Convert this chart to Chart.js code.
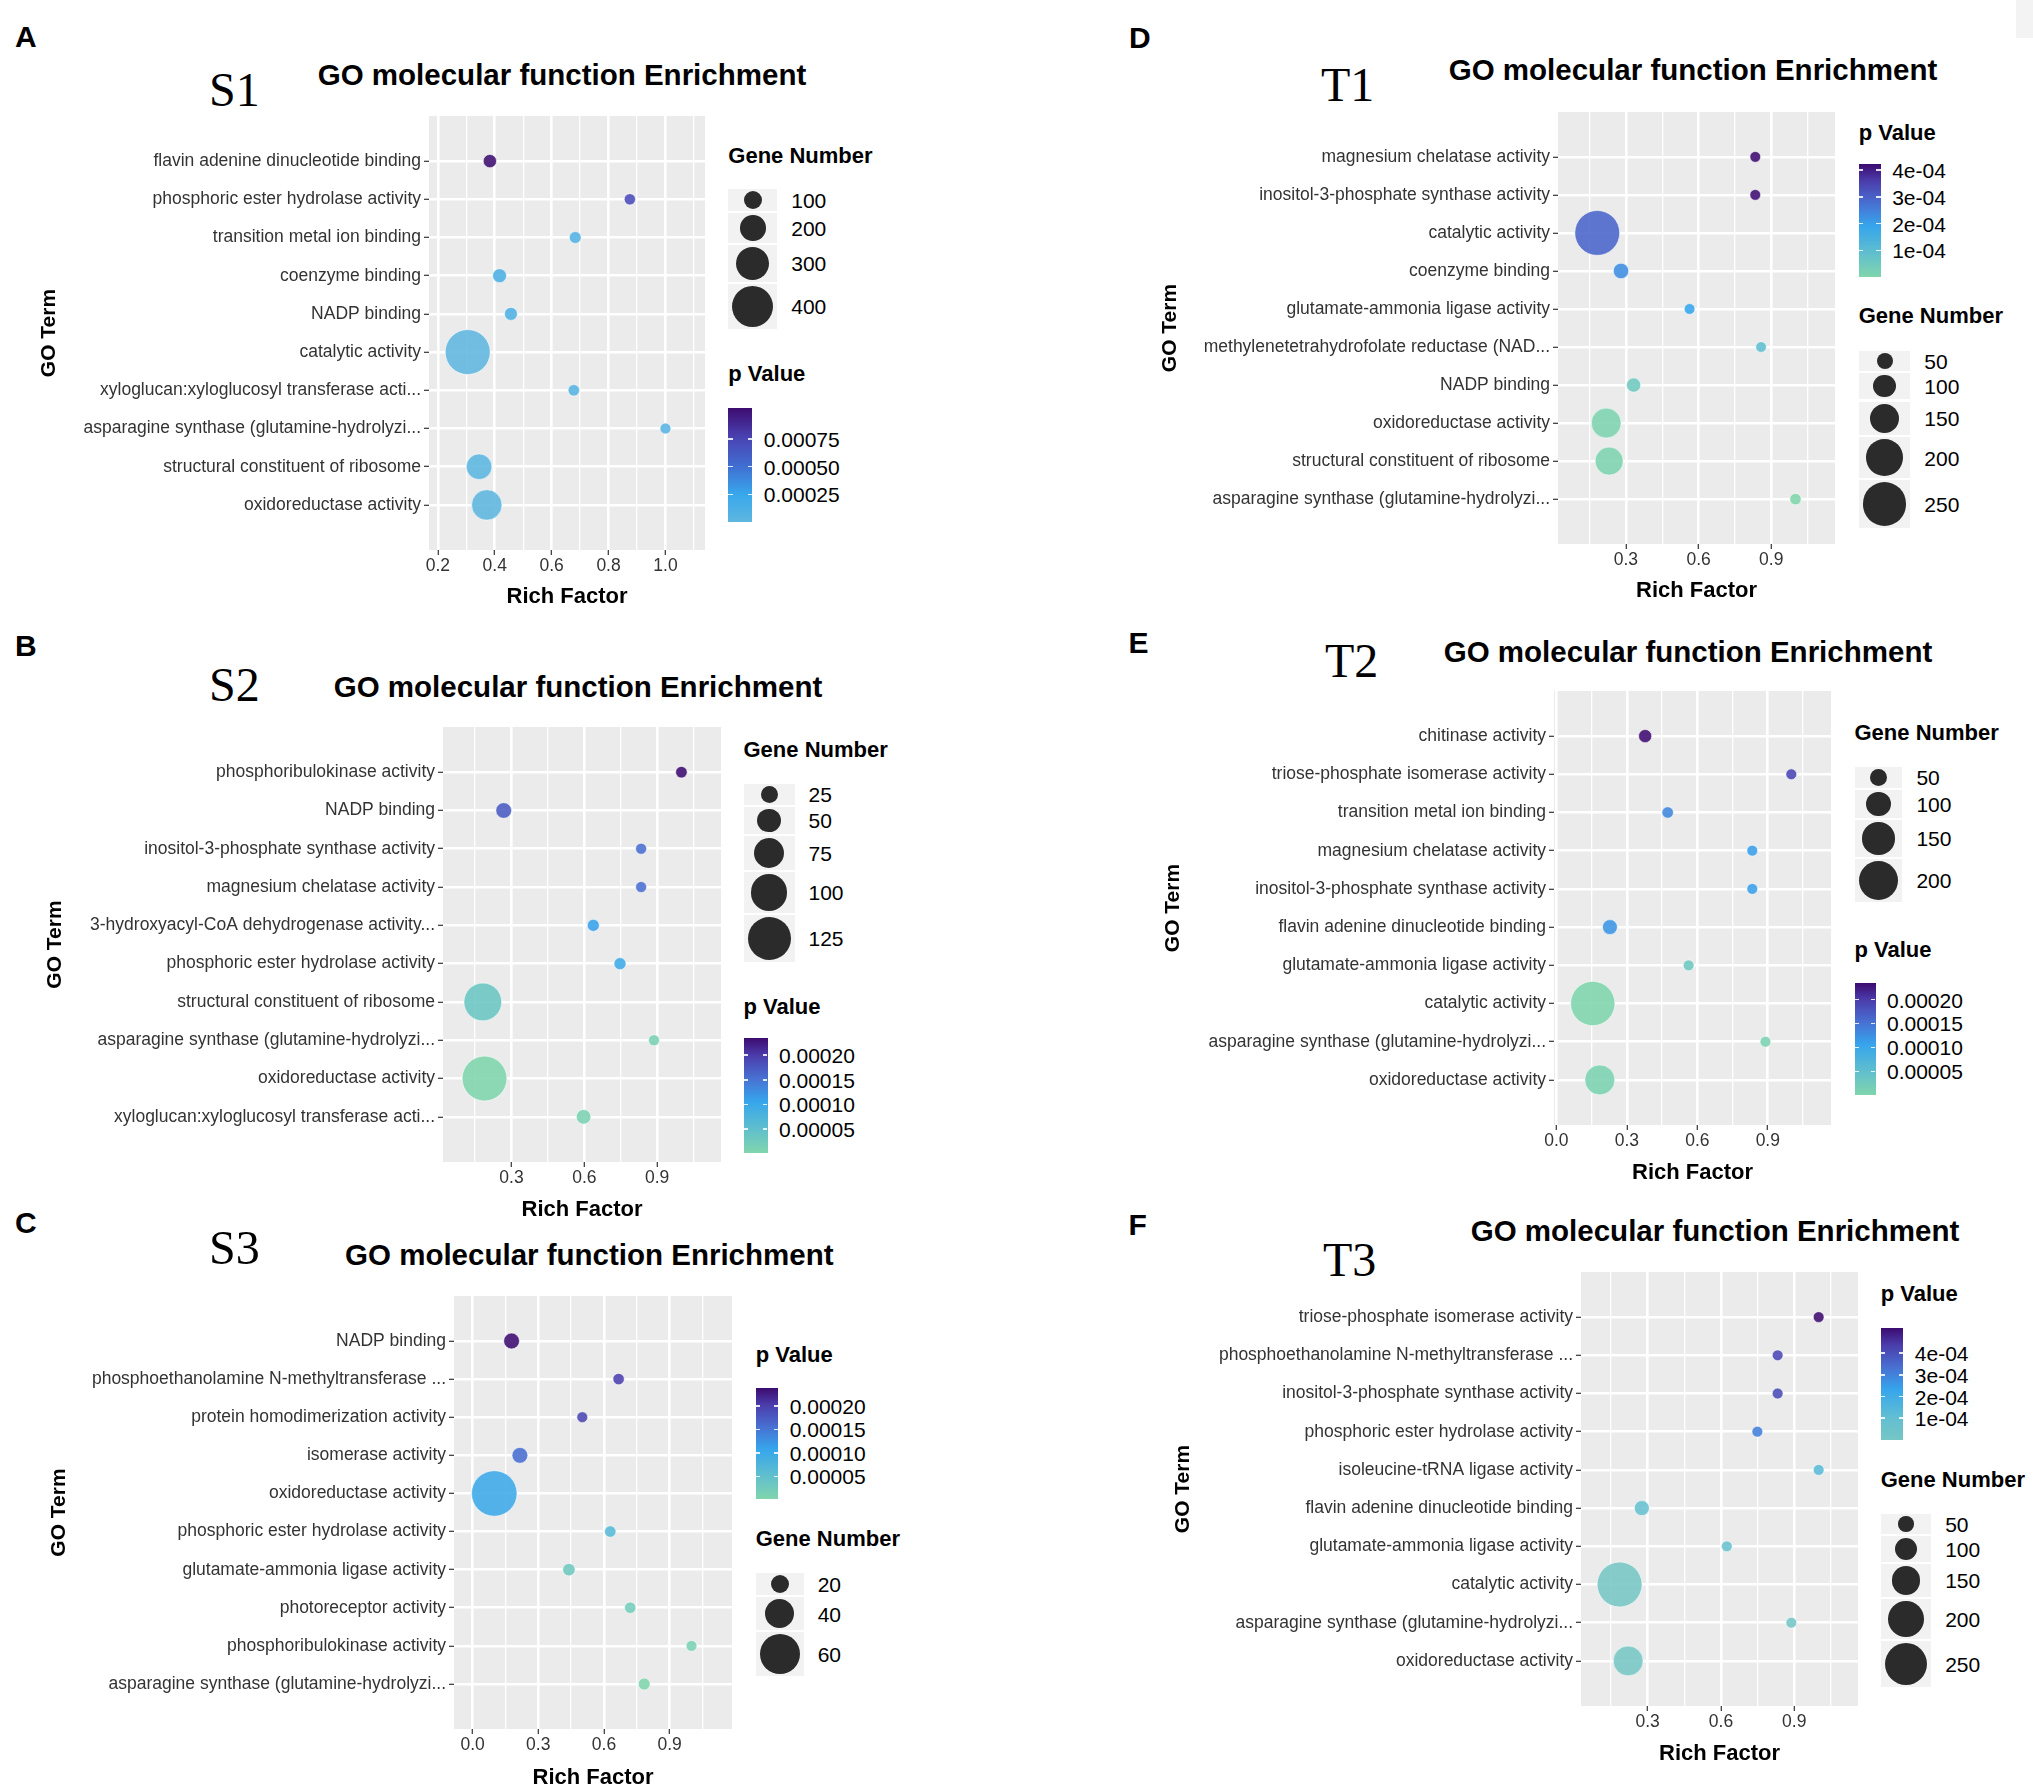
<!DOCTYPE html>
<html>
<head>
<meta charset="utf-8">
<script src="https://cdn.jsdelivr.net/npm/chart.js@4.4.1/dist/chart.umd.min.js"></script>
<style>
html,body{margin:0;padding:0;background:#fff;}
body{width:2033px;height:1792px;position:relative;overflow:hidden;}
.t{position:absolute;white-space:nowrap;line-height:1;}
canvas{position:absolute;}
</style>
</head>
<body>
<script>
// ================= DATA =================
// Panel A (S1)
const catsA = ['flavin adenine dinucleotide binding','phosphoric ester hydrolase activity','transition metal ion binding','coenzyme binding','NADP binding','catalytic activity','xyloglucan:xyloglucosyl transferase acti...','asparagine synthase (glutamine-hydrolyzi...','structural constituent of ribosome','oxidoreductase activity'];
const richA = [0.383,0.875,0.683,0.417,0.457,0.305,0.678,1.0,0.345,0.372];
const genesA = [39,12,20,48,35,452,15,8,200,262];
const pvalA = [0.00103,0.00072,0.00008,0.00012,0.0001,0.000001,0.00006,0.00005,0.00002,0.00001];
const xTicksA = [0.2,0.4,0.6,0.8,1.0];
const sizeBreaksA = [100,200,300,400];
const pBreaksA = [0.00025,0.0005,0.00075];
const pLabelsA = ['0.00025','0.00050','0.00075'];

// Panel B (S2)
const catsB = ['phosphoribulokinase activity','NADP binding','inositol-3-phosphate synthase activity','magnesium chelatase activity','3-hydroxyacyl-CoA dehydrogenase activity...','phosphoric ester hydrolase activity','structural constituent of ribosome','asparagine synthase (glutamine-hydrolyzi...','oxidoreductase activity','xyloglucan:xyloglucosyl transferase acti...'];
const richB = [1.0,0.268,0.834,0.834,0.637,0.747,0.182,0.887,0.189,0.597];
const genesB = [4,20,2,2,6,6,105,2,132,16];
const pvalB = [0.000235,0.000172,0.000155,0.000155,0.00011,0.000095,0.000035,0.000012,0.000001,0.00001];
const xTicksB = [0.3,0.6,0.9];
const sizeBreaksB = [25,50,75,100,125];
const pBreaksB = [0.00005,0.0001,0.00015,0.0002];
const pLabelsB = ['0.00005','0.00010','0.00015','0.00020'];

// Panel C (S3)
const catsC = ['NADP binding','phosphoethanolamine N-methyltransferase ...','protein homodimerization activity','isomerase activity','oxidoreductase activity','phosphoric ester hydrolase activity','glutamate-ammonia ligase activity','photoreceptor activity','phosphoribulokinase activity','asparagine synthase (glutamine-hydrolyzi...'];
const richC = [0.178,0.667,0.501,0.216,0.099,0.629,0.44,0.72,1.0,0.784];
const genesC = [16,8,7,16,70,8,10,8,7,9];
const pvalC = [0.000239,0.0002,0.000195,0.000158,0.0001,0.000065,0.00003,0.00002,0.00001,0.000001];
const xTicksC = [0.0,0.3,0.6,0.9];
const sizeBreaksC = [20,40,60];
const pBreaksC = [0.00005,0.0001,0.00015,0.0002];
const pLabelsC = ['0.00005','0.00010','0.00015','0.00020'];

// Panel D (T1)
const catsD = ['magnesium chelatase activity','inositol-3-phosphate synthase activity','catalytic activity','coenzyme binding','glutamate-ammonia ligase activity','methylenetetrahydrofolate reductase (NAD...','NADP binding','oxidoreductase activity','structural constituent of ribosome','asparagine synthase (glutamine-hydrolyzi...'];
const richD = [0.834,0.834,0.182,0.28,0.563,0.858,0.332,0.219,0.231,1.0];
const genesD = [12,12,259,46,12,12,38,151,138,17];
const pvalD = [0.000423,0.00042,0.000295,0.00023,0.00019,0.000095,0.00005,0.00001,0.00001,0.000001];
const xTicksD = [0.3,0.6,0.9];
const sizeBreaksD = [50,100,150,200,250];
const pBreaksD = [0.0001,0.0002,0.0003,0.0004];
const pLabelsD = ['1e-04','2e-04','3e-04','4e-04'];

// Panel E (T2)
const catsE = ['chitinase activity','triose-phosphate isomerase activity','transition metal ion binding','magnesium chelatase activity','inositol-3-phosphate synthase activity','flavin adenine dinucleotide binding','glutamate-ammonia ligase activity','catalytic activity','asparagine synthase (glutamine-hydrolyzi...','oxidoreductase activity'];
const richE = [0.378,1.0,0.474,0.834,0.834,0.228,0.563,0.155,0.89,0.185];
const genesE = [25,10,14,10,10,37,10,229,10,135];
const pvalE = [0.000234,0.00019,0.000133,0.000112,0.000112,0.00012,0.00003,0.000001,0.00001,0.000008];
const xTicksE = [0.0,0.3,0.6,0.9];
const sizeBreaksE = [50,100,150,200];
const pBreaksE = [0.00005,0.0001,0.00015,0.0002];
const pLabelsE = ['0.00005','0.00010','0.00015','0.00020'];

// Panel F (T3)
const catsF = ['triose-phosphate isomerase activity','phosphoethanolamine N-methyltransferase ...','inositol-3-phosphate synthase activity','phosphoric ester hydrolase activity','isoleucine-tRNA ligase activity','flavin adenine dinucleotide binding','glutamate-ammonia ligase activity','catalytic activity','asparagine synthase (glutamine-hydrolyzi...','oxidoreductase activity'];
const richF = [1.0,0.832,0.832,0.749,1.0,0.276,0.624,0.185,0.888,0.22];
const genesF = [17,17,17,17,17,48,17,268,17,157];
const pvalF = [0.000518,0.000415,0.00041,0.00031,0.00013,0.00009,0.00007,0.000001,0.00001,0.000002];
const xTicksF = [0.3,0.6,0.9];
const sizeBreaksF = [50,100,150,200,250];
const pBreaksF = [0.0001,0.0002,0.0003,0.0004];
const pLabelsF = ['1e-04','2e-04','3e-04','4e-04'];

// ================= STYLE / LAYOUT =================
const FONT = "'Liberation Sans', Arial, Helvetica, sans-serif";
const SERIF = "'Liberation Serif', 'Times New Roman', serif";
Chart.defaults.font.family = FONT;
const BUBBLE_ALPHA = 0.88;

const GRAD_STD = [[0,'#80d5ac'],[0.2,'#62c0cc'],[0.45,'#36a5ec'],[0.65,'#4870d2'],[0.85,'#4b3cab'],[1,'#3d0b6f']];
const GRAD_A = [[0,'#5eb6df'],[0.24,'#38a8ec'],[0.48,'#4070d2'],[0.73,'#4a45b5'],[1,'#3d0c70']];
const GRAD_F = [[0,'#76c6c4'],[0.2,'#62bfd2'],[0.45,'#36a5ec'],[0.65,'#4870d2'],[0.85,'#4b3cab'],[1,'#3d0b6f']];

const layA = {letter:'A', letterX:15, letterY:36.6, tag:'S1', tagX:209, tagY:90, titleX:562, titleY:75,
  plot:{l:428.6,r:705.4,t:115.5,b:549.6}, xMin:0.169, xMax:1.139, goX:50, rfY:597,
  legX:728.3, sizeTitleY:156.2, sizeFirstCY:200, colorTitleY:373.7, barTop:408, barH:114, barW:24,
  grad:GRAD_A, d0:10.3, d1:0.0767};
const layB = {letter:'B', letterX:15, letterY:646, tag:'S2', tagX:209, tagY:685, titleX:578, titleY:686.5,
  plot:{l:443.2,r:720.7,t:727.2,b:1161.5}, xMin:0.018, xMax:1.163, goX:56, rfY:1209.4,
  legX:743.5, sizeTitleY:750, sizeFirstCY:794, colorTitleY:1006.5, barTop:1038, barH:115, barW:24,
  grad:GRAD_STD, d0:10.5, d1:0.26};
const layC = {letter:'C', letterX:15, letterY:1222.6, tag:'S3', tagX:209, tagY:1248, titleX:589.3, titleY:1255,
  plot:{l:454,r:732,t:1295.5,b:1729.3}, xMin:-0.085, xMax:1.185, goX:59.3, rfY:1777.6,
  legX:755.7, colorTitleY:1354.8, barTop:1387.6, barH:111.8, barW:22.5, sizeTitleY:1539, sizeFirstCY:1584.3,
  grad:GRAD_STD, d0:7, d1:0.55};
const layD = {letter:'D', letterX:1129, letterY:37.5, tag:'T1', tagX:1321, tagY:84.6, titleX:1693, titleY:70,
  plot:{l:1558.2,r:1834.9,t:111.5,b:543.7}, xMin:0.02, xMax:1.163, goX:1170.2, rfY:591.1,
  legX:1858.7, colorTitleY:132.5, barTop:164, barH:112.8, barW:22, sizeTitleY:316.3, sizeFirstCY:360.6,
  grad:GRAD_STD, d0:9.1, d1:0.138};
const layE = {letter:'E', letterX:1128.5, letterY:643, tag:'T2', tagX:1325, tagY:660.7, titleX:1688, titleY:651.8,
  plot:{l:1554,r:1830.7,t:691.4,b:1125}, xMin:-0.01, xMax:1.169, goX:1173.8, rfY:1173,
  legX:1854.5, sizeTitleY:732.8, sizeFirstCY:777.2, colorTitleY:950.4, barTop:983.3, barH:111.4, barW:21,
  grad:GRAD_STD, d0:9.3, d1:0.153};
const layF = {letter:'F', letterX:1128.5, letterY:1224.5, tag:'T3', tagX:1323, tagY:1260.4, titleX:1715, titleY:1231,
  plot:{l:1580.8,r:1857.5,t:1271.7,b:1705.9}, xMin:0.027, xMax:1.161, goX:1183.9, rfY:1754.2,
  legX:1880.7, colorTitleY:1294.4, barTop:1327.6, barH:112.1, barW:22.6, sizeTitleY:1480, sizeFirstCY:1523.9,
  grad:GRAD_F, d0:8.5, d1:0.136};

// ================= HELPERS =================
function hexToRgb(h){h=h.replace('#','');return [parseInt(h.slice(0,2),16),parseInt(h.slice(2,4),16),parseInt(h.slice(4,6),16)];}
function gradColor(stops,t,alpha){
  t=Math.max(0,Math.min(1,t));
  for(let i=1;i<stops.length;i++){
    if(t<=stops[i][0]||i===stops.length-1){
      const a=hexToRgb(stops[i-1][1]), b=hexToRgb(stops[i][1]);
      const f=(t-stops[i-1][0])/(stops[i][0]-stops[i-1][0]);
      const c=a.map((v,k)=>Math.round(v+(b[k]-v)*f));
      return 'rgba('+c[0]+','+c[1]+','+c[2]+','+(alpha==null?1:alpha)+')';
    }
  }
}
function addDiv(styles){const el=document.createElement('div');el.style.position='absolute';Object.assign(el.style,styles);document.body.appendChild(el);return el;}
function addText(txt,x,y,size,opt){
  opt=opt||{};
  const el=document.createElement('div');el.className='t';el.textContent=txt;
  el.style.left=x+'px';el.style.top=y+'px';el.style.fontSize=size+'px';
  el.style.fontFamily=opt.family||FONT;el.style.fontWeight=opt.bold?'700':'400';
  el.style.color=opt.color||'#000';
  el.style.transform=opt.center?'translate(-50%,-50%)':'translate(0,-50%)';
  document.body.appendChild(el);return el;
}

const bgPlugin = {id:'panelBg', beforeDraw(chart){
  const {ctx, chartArea:a} = chart; ctx.save(); ctx.fillStyle='#EBEBEB';
  ctx.fillRect(a.left,a.top,a.right-a.left,a.bottom-a.top); ctx.restore();
}};

function buildPanel(d, lay){
  const sz = v => lay.d0 + lay.d1*v;
  const pMin = Math.min(...d.pval), pMax = Math.max(...d.pval);
  const colorFor = p => gradColor(lay.grad,(p-pMin)/(pMax-pMin),BUBBLE_ALPHA);

  // texts
  addText(lay.letter, lay.letterX, lay.letterY, 30, {bold:true});
  addText(lay.tag, lay.tagX, lay.tagY, 48, {family:SERIF});
  addText('GO molecular function Enrichment', lay.titleX, lay.titleY, 29.5, {bold:true, center:true});

  // chart geometry
  const P = {l:Math.round(lay.plot.l), r:Math.round(lay.plot.r), t:Math.round(lay.plot.t), b:Math.round(lay.plot.b)};
  const padT = 20, padR = 12;
  const cLeft = Math.round(lay.goX - 18.6);
  const yAxisW = P.l - cLeft;
  const cBottom = Math.round(lay.rfY + 17.2);
  const xAxisH = cBottom - P.b;
  const cv = document.createElement('canvas');
  const cw = yAxisW + (P.r - P.l) + padR;
  const ch = padT + (P.b - P.t) + xAxisH;
  cv.width = cw; cv.height = ch;
  cv.style.left = cLeft + 'px'; cv.style.top = (P.t - padT) + 'px';
  cv.style.width = cw + 'px'; cv.style.height = ch + 'px';
  document.body.appendChild(cv);

  // x ticks: majors (labelled) + minor midpoints
  const step = d.xTicks[1] - d.xTicks[0];
  let xt = [];
  d.xTicks.forEach(v => xt.push({v:v, major:true}));
  for (let i=0;i<d.xTicks.length-1;i++) xt.push({v:(d.xTicks[i]+d.xTicks[i+1])/2, major:false});
  xt.push({v:d.xTicks[0]-step/2, major:false});
  xt.push({v:d.xTicks[d.xTicks.length-1]+step/2, major:false});
  xt = xt.filter(o => o.v >= lay.xMin && o.v <= lay.xMax).sort((a,b)=>a.v-b.v);

  const n = d.cats.length;
  new Chart(cv, {
    type:'bubble',
    data:{datasets:[{
      data: d.cats.map((c,i)=>({x:d.rich[i], y:i, r:sz(d.genes[i])/2})),
      backgroundColor: d.pval.map(colorFor),
      borderColor:'rgba(255,255,255,0.55)', borderWidth:1,
      hoverRadius:0, hoverBorderWidth:1
    }]},
    options:{
      responsive:false, maintainAspectRatio:false, animation:false, devicePixelRatio:1, events:[],
      layout:{autoPadding:false, padding:{top:padT,right:padR,left:0,bottom:0}},
      plugins:{legend:{display:false}, tooltip:{enabled:false}},
      scales:{
        x:{type:'linear', min:lay.xMin, max:lay.xMax,
          afterBuildTicks: ax => { ax.ticks = xt.map(o=>({value:o.v})); },
          afterFit: ax => { ax.height = xAxisH; },
          ticks:{autoSkip:false, maxRotation:0, minRotation:0, padding:1, color:'#333',
            font:{family:FONT, size:17.5},
            callback:(v,i)=> xt[i] && xt[i].major ? xt[i].v.toFixed(1) : ''},
          grid:{color:'#ffffff', lineWidth: ctx => (xt[ctx.index] && xt[ctx.index].major) ? 2.6 : 1.3,
            drawTicks:true, tickLength:5, tickWidth:1.2,
            tickColor: ctx => (xt[ctx.index] && xt[ctx.index].major) ? '#333333' : 'rgba(0,0,0,0)'},
          border:{display:false},
          title:{display:true, text:'Rich Factor', color:'#000', font:{family:FONT, size:22, weight:'bold'}, padding:{top:0,bottom:4}}
        },
        y:{type:'linear', reverse:true, min:-1.18, max:(n-1)+1.18,
          afterBuildTicks: ax => { ax.ticks = d.cats.map((c,i)=>({value:i})); },
          afterFit: ax => { ax.width = yAxisW; },
          ticks:{autoSkip:false, padding:3, color:'#333', font:{family:FONT, size:17.5},
            callback: v => d.cats[v]},
          grid:{color:'#ffffff', lineWidth:2.6, drawTicks:true, tickLength:5, tickWidth:1.2, tickColor:'#333333'},
          border:{display:false},
          title:{display:true, text:'GO Term', color:'#000', font:{family:FONT, size:21, weight:'bold'}, padding:{top:6,bottom:0}}
        }
      }
    },
    plugins:[bgPlugin]
  });

  // size legend
  addText('Gene Number', lay.legX, lay.sizeTitleY, 22, {bold:true});
  const maxD = sz(Math.max(...d.sizeBreaks));
  const boxW = maxD + 8;
  let top = null;
  d.sizeBreaks.forEach(v => {
    const dd = sz(v); const h = Math.max(dd+4, 20);
    if (top === null) top = lay.sizeFirstCY - h/2;
    addDiv({left:lay.legX+'px', top:top+'px', width:boxW+'px', height:h+'px', background:'#F2F2F2'});
    addDiv({left:(lay.legX+boxW/2-dd/2)+'px', top:(top+h/2-dd/2)+'px', width:dd+'px', height:dd+'px', borderRadius:'50%', background:'#2b2b2b'});
    addText(String(v), lay.legX+boxW+14, top+h/2, 21);
    top += h + 2;
  });

  // colour bar legend
  addText('p Value', lay.legX, lay.colorTitleY, 22, {bold:true});
  const g = lay.grad.map(s => s[1]+' '+(s[0]*100).toFixed(1)+'%').join(',');
  addDiv({left:lay.legX+'px', top:lay.barTop+'px', width:lay.barW+'px', height:lay.barH+'px', background:'linear-gradient(to top, '+g+')'});
  d.pBreaks.forEach((p,i) => {
    const y = lay.barTop + lay.barH*(1-(p-pMin)/(pMax-pMin));
    addDiv({left:lay.legX+'px', top:(y-0.75)+'px', width:(lay.barW/5)+'px', height:'1.5px', background:'rgba(255,255,255,0.85)'});
    addDiv({left:(lay.legX+lay.barW*0.8)+'px', top:(y-0.75)+'px', width:(lay.barW/5)+'px', height:'1.5px', background:'rgba(255,255,255,0.85)'});
    addText(d.pLabels[i], lay.legX+lay.barW+11.5, y, 21);
  });
}

// faint grey patch at top right corner of the figure
addDiv({left:'2016px', top:'0px', width:'17px', height:'38px', background:'#f3f3f3'});

buildPanel({cats:catsA, rich:richA, genes:genesA, pval:pvalA, xTicks:xTicksA, sizeBreaks:sizeBreaksA, pBreaks:pBreaksA, pLabels:pLabelsA}, layA);
buildPanel({cats:catsB, rich:richB, genes:genesB, pval:pvalB, xTicks:xTicksB, sizeBreaks:sizeBreaksB, pBreaks:pBreaksB, pLabels:pLabelsB}, layB);
buildPanel({cats:catsC, rich:richC, genes:genesC, pval:pvalC, xTicks:xTicksC, sizeBreaks:sizeBreaksC, pBreaks:pBreaksC, pLabels:pLabelsC}, layC);
buildPanel({cats:catsD, rich:richD, genes:genesD, pval:pvalD, xTicks:xTicksD, sizeBreaks:sizeBreaksD, pBreaks:pBreaksD, pLabels:pLabelsD}, layD);
buildPanel({cats:catsE, rich:richE, genes:genesE, pval:pvalE, xTicks:xTicksE, sizeBreaks:sizeBreaksE, pBreaks:pBreaksE, pLabels:pLabelsE}, layE);
buildPanel({cats:catsF, rich:richF, genes:genesF, pval:pvalF, xTicks:xTicksF, sizeBreaks:sizeBreaksF, pBreaks:pBreaksF, pLabels:pLabelsF}, layF);
</script>
</body>
</html>
